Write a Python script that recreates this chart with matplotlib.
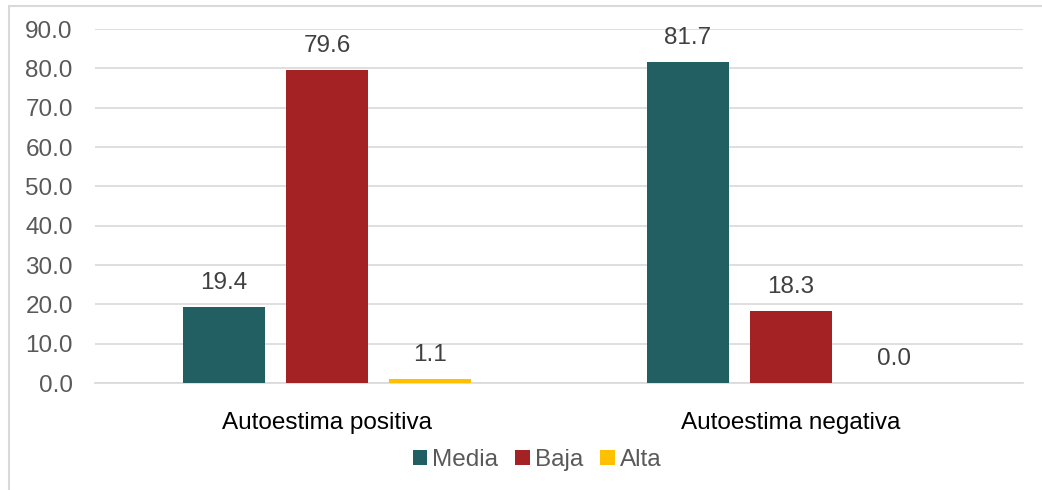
import matplotlib
matplotlib.use("Agg")
import matplotlib.pyplot as plt
from matplotlib.patches import Rectangle
import numpy as np

plt.rcParams['font.family'] = ['Liberation Sans', 'DejaVu Sans']

categories = ["Autoestima positiva", "Autoestima negativa"]
series_names = ["Media", "Baja", "Alta"]
media = [19.4, 81.7]
baja = [79.6, 18.3]
alta = [1.1, 0.0]
yticks = [0, 10, 20, 30, 40, 50, 60, 70, 80, 90]

colors = ["#215F63", "#A52224", "#FFC000"]
values = [media, baja, alta]

FS = 17.5
W, H = 1042, 490
fig = plt.figure(figsize=(W/100, H/100), dpi=100)
ax = fig.add_axes([95/W, 1-383/H, (1023-95)/W, (383-29)/H])

x = np.arange(len(categories))
bw = 0.175
step = 0.222
for i, (name, vals, c) in enumerate(zip(series_names, values, colors)):
    pos = x + (i-1)*step
    ax.bar(pos, vals, width=bw, color=c, label=name, zorder=3)
    for p, v in zip(pos, vals):
        ax.text(p, v + 3.2, f"{v:.1f}", ha='center', va='bottom',
                fontsize=FS, color='#404040')

ax.set_xlim(-0.5, 1.5)
ax.set_ylim(0, 90)
ax.set_yticks(yticks)
ax.set_yticklabels([f"{t:.1f}" for t in yticks], fontsize=FS, color='#595959')
ax.yaxis.grid(True, color='#D9D9D9', linewidth=1.2, zorder=0)
ax.set_xticks(x)
ax.set_xticklabels(categories, fontsize=FS, color='black')
ax.tick_params(axis='x', length=0, pad=21)
ax.tick_params(axis='y', length=0, pad=16)
for s in ['top', 'right', 'left']:
    ax.spines[s].set_visible(False)
ax.spines['bottom'].set_color('#D9D9D9')
ax.spines['bottom'].set_linewidth(1.2)

leg = fig.legend(loc='center', bbox_to_anchor=(537/W, 1-460/H), ncol=3,
                 frameon=False, fontsize=FS, handlelength=0.6, handleheight=0.6,
                 handletextpad=0.2, columnspacing=0.7)
for t in leg.get_texts():
    t.set_color('#595959')

fig.patches.append(Rectangle((9/W, -0.1), 1.2, 1-6/H+0.1, transform=fig.transFigure,
                             fill=False, edgecolor='#D9D9D9', linewidth=1.5))

fig.savefig("out.png", dpi=100)
